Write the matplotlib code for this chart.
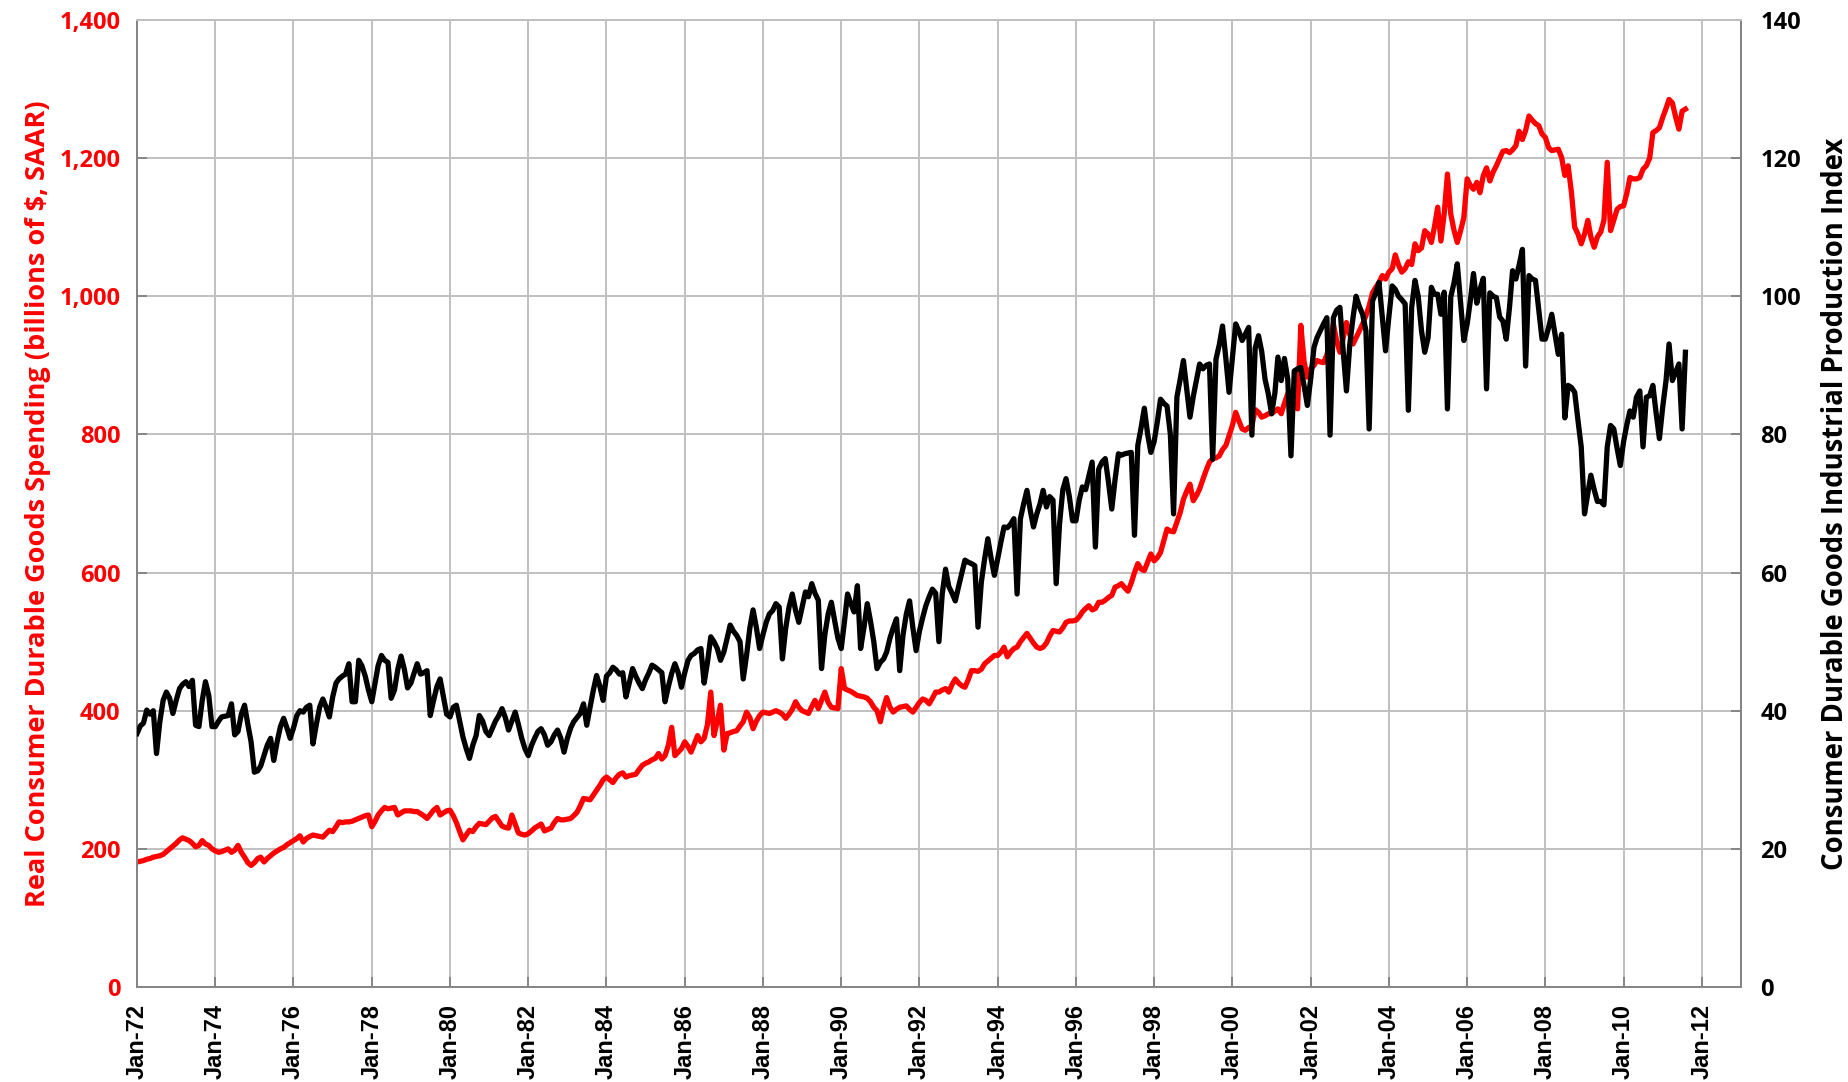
import datetime as dt
import matplotlib
matplotlib.use("Agg")
import matplotlib.pyplot as plt
import matplotlib.dates as mdates
from matplotlib.ticker import FuncFormatter, MultipleLocator
import pandas as pd

# monthly observations, Jan-1972 .. Aug-2011
months = pd.date_range("1972-01-01", "2011-08-01", freq="MS")

# Real consumer durable goods spending (billions of $, SAAR) - left axis
spending = [
    181, 182, 183, 185, 186, 188, 189, 190, 192, 196, 200, 204,   # 1972
    208, 213, 216, 214, 212, 208, 203, 205, 212, 207, 205, 200,   # 1973
    197, 195, 196, 198, 200, 195, 198, 205, 195, 188, 180, 176,   # 1974
    180, 186, 188, 181, 186, 190, 194, 197, 200, 202, 206, 209,   # 1975
    212, 215, 219, 210, 215, 218, 220, 219, 218, 217, 222, 227,   # 1976
    225, 232, 239, 238, 239, 239, 240, 242, 244, 246, 248, 249,   # 1977
    232, 240, 249, 255, 260, 258, 259, 260, 249, 252, 255, 255,   # 1978
    255, 254, 254, 251, 248, 244, 250, 256, 260, 249, 252, 255,   # 1979
    256, 248, 238, 225, 213, 220, 227, 225, 232, 237, 236, 235,   # 1980
    240, 245, 247, 240, 233, 231, 230, 249, 236, 223, 221, 220,   # 1981
    222, 226, 230, 233, 236, 226, 228, 230, 238, 244, 242, 242,   # 1982
    243, 244, 248, 253, 262, 273, 272, 271, 278, 285, 292, 300,   # 1983
    304, 300, 296, 303, 308, 310, 304, 306, 307, 308, 315, 321,   # 1984
    324, 326, 329, 331, 338, 330, 335, 350, 376, 335, 340, 345,   # 1985
    355, 348, 340, 352, 364, 355, 360, 380, 427, 364, 385, 408,   # 1986
    343, 367, 368, 370, 371, 378, 384, 398, 390, 374, 385, 393,   # 1987
    398, 397, 396, 398, 400, 398, 395, 389, 395, 402, 413, 405,   # 1988
    400, 398, 396, 406, 415, 403, 415, 427, 412, 405, 404, 403,   # 1989
    461, 432, 430, 428, 425, 422, 421, 420, 418, 413, 405, 400,   # 1990
    384, 405, 419, 405, 398, 402, 405, 406, 407, 402, 398, 405,   # 1991
    412, 417, 415, 410, 418, 427, 427, 430, 432, 427, 438, 446,   # 1992
    440, 436, 434, 445, 458, 458, 457, 460, 468, 472, 476, 480,   # 1993
    480, 485, 492, 478, 485, 490, 492, 500, 506, 512, 505, 498,   # 1994
    492, 490, 492, 498, 508, 516, 515, 514, 520, 528, 530, 530,   # 1995
    531, 536, 543, 548, 552, 546, 548, 557, 557, 560, 564, 567,   # 1996
    579, 581, 584, 578, 573, 585, 600, 613, 605, 603, 615, 627,   # 1997
    617, 622, 629, 646, 663, 660, 659, 673, 687, 706, 718, 728,   # 1998
    704, 712, 721, 735, 748, 760, 765, 766, 769, 778, 784, 798,   # 1999
    813, 832, 820, 808, 806, 810, 812, 836, 832, 825, 827, 830,   # 2000
    830, 834, 837, 830, 845, 859, 850, 842, 837, 958, 905, 883,   # 2001
    895, 900, 907, 905, 904, 915, 935, 960, 935, 919, 940, 962,   # 2002
    945, 931, 940, 950, 960, 972, 986, 1005, 1013, 1020, 1030, 1025,   # 2003
    1035, 1040, 1060, 1045, 1035, 1040, 1050, 1046, 1076, 1066, 1070, 1095,   # 2004
    1090, 1078, 1100, 1129, 1080, 1120, 1177, 1119, 1095, 1078, 1095, 1114,   # 2005
    1170, 1160, 1155, 1165, 1150, 1175, 1186, 1167, 1180, 1189, 1200, 1210,   # 2006
    1211, 1208, 1212, 1218, 1239, 1227, 1240, 1261, 1255, 1250, 1247, 1235,   # 2007
    1230, 1215, 1211, 1212, 1213, 1201, 1175, 1189, 1150, 1100, 1090, 1076,   # 2008
    1090, 1110, 1086, 1071, 1086, 1093, 1110, 1194, 1095, 1110, 1126, 1130,   # 2009
    1131, 1150, 1172, 1170, 1170, 1172, 1184, 1189, 1200, 1237, 1240, 1244,   # 2010
    1259, 1272, 1285, 1280, 1260, 1242, 1268, 1271,                           # 2011
]

# Consumer durable goods industrial production index (not seas. adj.) - right axis
ip_index = [
    36.7, 37.8, 38.2, 40.1, 39.5, 40.0, 33.8, 38.4, 41.5, 42.7, 41.8, 39.6,   # 1972
    41.5, 43.2, 43.8, 44.2, 43.5, 44.4, 37.9, 37.7, 41.5, 44.2, 42.2, 37.7,   # 1973
    37.7, 38.5, 39.1, 39.2, 39.3, 41.0, 36.5, 37.0, 39.5, 40.8, 38.0, 35.5,   # 1974
    31.1, 31.3, 32.0, 33.5, 35.0, 36.0, 32.8, 35.5, 37.7, 38.9, 37.5, 36.0,   # 1975
    37.5, 39.3, 40.0, 39.8, 40.5, 40.8, 35.2, 38.0, 40.5, 41.7, 40.5, 39.1,   # 1976
    42.0, 44.0, 44.6, 45.0, 45.3, 46.8, 41.3, 41.3, 47.3, 46.5, 45.0, 43.0,   # 1977
    41.3, 44.0, 46.5, 48.0, 47.3, 47.0, 41.8, 43.0, 46.0, 47.9, 46.0, 43.3,   # 1978
    44.0, 45.5, 46.8, 45.3, 45.5, 45.8, 39.3, 41.5, 43.5, 44.6, 42.0, 39.5,   # 1979
    39.1, 40.5, 40.8, 38.5, 36.2, 34.5, 33.1, 35.0, 36.4, 39.3, 38.5, 37.0,   # 1980
    36.4, 37.5, 38.5, 39.3, 40.3, 39.0, 37.2, 38.5, 39.8, 38.0, 36.0, 34.5,   # 1981
    33.5, 35.0, 36.0, 37.0, 37.4, 36.5, 35.0, 35.5, 36.5, 37.2, 36.0, 34.0,   # 1982
    36.0, 37.5, 38.4, 39.0, 39.6, 41.0, 37.9, 40.5, 43.0, 45.1, 43.5, 41.5,   # 1983
    45.0, 45.5, 46.3, 45.9, 45.3, 45.5, 42.0, 44.0, 46.1, 45.0, 44.0, 43.2,   # 1984
    44.5, 45.5, 46.6, 46.3, 45.9, 45.5, 41.3, 43.5, 45.4, 46.8, 45.5, 43.4,   # 1985
    45.5, 47.3, 48.0, 48.3, 48.8, 49.0, 44.0, 47.0, 50.7, 50.0, 49.0, 47.3,   # 1986
    48.5, 50.5, 52.4, 51.5, 50.9, 50.0, 44.6, 48.0, 52.0, 54.6, 52.0, 49.0,   # 1987
    51.0, 52.8, 54.0, 54.5, 55.5, 55.0, 47.5, 52.0, 55.0, 56.9, 54.5, 52.8,   # 1988
    55.0, 57.2, 56.5, 58.4, 57.0, 56.0, 46.1, 51.0, 54.0, 55.7, 53.0, 50.5,   # 1989
    49.0, 53.0, 56.9, 55.5, 54.3, 58.1, 49.0, 52.0, 55.5, 53.0, 50.0, 46.1,   # 1990
    47.0, 47.5, 48.5, 50.5, 52.0, 53.3, 45.8, 51.0, 54.0, 55.9, 52.0, 48.7,   # 1991
    51.5, 53.5, 55.2, 56.5, 57.6, 57.0, 50.0, 56.9, 60.5, 58.0, 57.0, 55.9,   # 1992
    58.0, 60.0, 61.8, 61.5, 61.3, 61.0, 52.1, 58.6, 62.0, 64.9, 62.0, 59.6,   # 1993
    62.0, 64.5, 66.6, 66.5, 67.0, 67.8, 56.9, 67.8, 70.0, 71.9, 69.0, 66.6,   # 1994
    68.5, 70.0, 71.9, 69.5, 71.0, 70.5, 58.4, 67.0, 72.0, 73.6, 71.0, 67.5,   # 1995
    67.5, 70.5, 72.4, 72.0, 74.0, 76.0, 63.7, 75.0, 76.0, 76.5, 73.0, 69.2,   # 1996
    73.5, 77.2, 77.0, 77.2, 77.3, 77.4, 65.4, 78.4, 81.0, 83.8, 80.0, 77.4,   # 1997
    79.0, 82.0, 85.1, 84.5, 84.1, 80.0, 68.5, 85.4, 88.0, 90.7, 86.5, 82.5,   # 1998
    85.5, 88.0, 90.2, 89.5, 90.0, 90.2, 76.4, 90.9, 93.0, 95.7, 91.0, 86.1,   # 1999
    91.0, 96.0, 95.0, 93.6, 94.5, 95.5, 79.9, 92.5, 94.3, 92.0, 88.0, 85.9,   # 2000
    83.0, 86.0, 91.2, 87.8, 91.0, 88.0, 76.9, 89.2, 89.5, 89.7, 87.0, 84.2,   # 2001
    88.0, 92.6, 94.0, 95.0, 96.0, 96.9, 79.9, 96.9, 98.0, 98.4, 92.0, 86.3,   # 2002
    93.0, 97.0, 100.0, 98.5, 97.4, 95.0, 80.8, 99.3, 100.5, 102.0, 97.0, 92.1,   # 2003
    97.0, 101.5, 101.0, 100.0, 99.5, 98.9, 83.5, 98.4, 102.3, 100.0, 95.0, 91.9,   # 2004
    94.0, 101.3, 100.3, 100.3, 97.4, 100.6, 83.7, 99.9, 102.0, 104.7, 99.0, 93.6,   # 2005
    96.0, 99.5, 103.3, 99.0, 101.0, 102.6, 86.6, 100.5, 100.0, 99.8, 97.0, 96.4,   # 2006
    93.8, 98.5, 103.7, 102.5, 104.5, 106.8, 89.9, 103.0, 102.5, 102.3, 98.0, 93.8,   # 2007
    93.8, 95.5, 97.4, 94.5, 91.6, 94.5, 82.4, 87.1, 86.8, 86.1, 82.0, 78.2,   # 2008
    68.5, 71.5, 74.1, 72.0, 70.3, 70.3, 69.8, 78.2, 81.3, 80.8, 78.0, 75.5,   # 2009
    79.0, 81.5, 83.4, 82.5, 85.4, 86.3, 78.2, 85.4, 85.6, 87.1, 83.0, 79.4,   # 2010
    84.0, 87.8, 93.1, 87.8, 89.0, 90.2, 80.8, 91.9,                           # 2011
]

left_label = "Real Consumer Durable Goods Spending (billions of $, SAAR)"
right_label = "Consumer Durable Goods Industrial Production Index"

grid_col = "#C0C0C0"
axis_col = "#868686"
label_font = "Open Sans"

fig = plt.figure(figsize=(18.49, 10.82), dpi=100)
ax = fig.add_axes([0.0741, 0.0878, 0.8675, 0.8937])
ax2 = ax.twinx()

ax.plot(months, spending, color="#FF0000", lw=3.8, solid_joinstyle="round", zorder=3)
ax2.plot(months, ip_index, color="black", lw=3.8, solid_joinstyle="round", zorder=3)

ax.set_xlim(dt.date(1972, 1, 1), dt.date(2013, 1, 1))
ax.set_ylim(0, 1400)
ax2.set_ylim(0, 140)
ax.yaxis.set_major_locator(MultipleLocator(200))
ax2.yaxis.set_major_locator(MultipleLocator(20))
ax.yaxis.set_major_formatter(FuncFormatter(lambda v, p: f"{v:,.0f}"))

ax.xaxis.set_major_locator(mdates.YearLocator(2, month=1, day=1))
ax.xaxis.set_major_formatter(mdates.DateFormatter("%b-%y"))

ax.grid(True, color=grid_col, lw=1.4)
ax.set_axisbelow(True)

for a in (ax, ax2):
    for s in a.spines.values():
        s.set_color(grid_col)
        s.set_linewidth(1.4)
    a.spines["left"].set_color(axis_col)
    a.spines["bottom"].set_color(axis_col)
    a.spines["right"].set_color(axis_col)
    a.tick_params(direction="in", length=7, width=1.4, color=axis_col)

ax.tick_params(axis="y", labelsize=17, labelcolor="#FF0000", pad=12)
ax.tick_params(axis="x", labelsize=17, pad=12, rotation=90)
ax2.tick_params(axis="y", labelsize=17, labelcolor="black", pad=14)

for lab in ax.get_yticklabels() + ax2.get_yticklabels():
    lab.set_fontfamily(label_font)
    lab.set_fontweight("bold")
for lab in ax.get_xticklabels():
    lab.set_fontfamily("Liberation Sans")
    lab.set_fontweight("bold")

ax.set_ylabel(left_label, color="#FF0000", fontsize=19.5, fontweight="bold",
              family=label_font, labelpad=6)
ax2.set_ylabel(right_label, color="black", fontsize=19.8, fontweight="bold",
               family=label_font, labelpad=14)

fig.savefig("out.png", dpi=100)
